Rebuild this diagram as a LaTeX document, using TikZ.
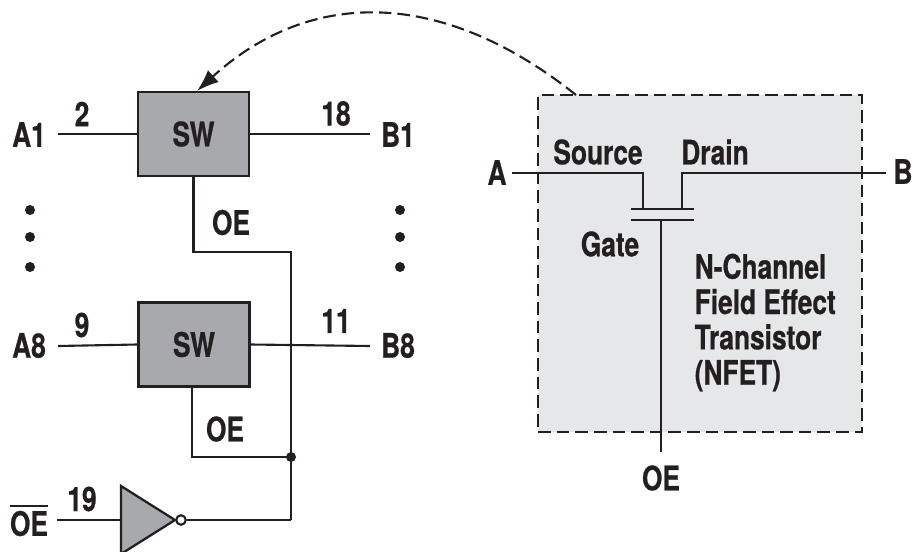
\documentclass[tikz,border=0pt]{standalone}
\usepackage{fontspec}
\setmainfont{TeX Gyre Heros}[FakeStretch=0.78,BoldFont={* Bold},BoldFeatures={FakeBold=0.6}]
\usetikzlibrary{arrows.meta}
\definecolor{inkblack}{HTML}{231F20}
\definecolor{swgray}{HTML}{A7A9AC}
\definecolor{fetgray}{HTML}{E6E7E8}
\tikzset{
  wire/.style={inkblack,line width=0.6pt},
  dashwire/.style={dash pattern=on 3.6pt off 1.7pt},
  swbox/.style={draw=inkblack,fill=swgray,line width=0.75pt,inner sep=0pt,minimum width=1.11cm,minimum height=0.84cm,text=inkblack,font=\fontsize{9.6}{11}\selectfont\bfseries},
  lbl/.style={inkblack,inner sep=0pt,font=\fontsize{9.6}{11}\selectfont\bfseries},
  stopdot/.style={circle,fill=inkblack,inner sep=0pt,minimum size=0.1cm},
}
\begin{document}
\begin{tikzpicture}
\useasboundingbox (0,0) rectangle (9.13,5.51);
% NFET panel
\node[draw=inkblack,fill=fetgray,dashwire,line width=0.65pt,inner sep=0pt,minimum width=3.24cm,minimum height=3.37cm] (fet) at (7.00,2.875) {};
\coordinate (fetout) at (5.76,4.56);
% switches
\node[swbox] (sw1) at (1.935,4.17) {SW};
\node[swbox] (sw2) at (1.94,2.065) {SW};
\draw[wire,dashwire,-{Latex[length=0.22cm,width=0.16cm]}] (fetout) .. controls (4.42,5.63) and (3.10,5.63) .. (1.97,4.60);
% pins
\coordinate (a1) at (0.58,4.17);
\coordinate (b1) at (3.70,4.17);
\coordinate (a8) at (0.58,2.05);
\coordinate (b8) at (3.70,2.05);
\draw[wire] (a1)--(sw1.west);
\draw[wire] (sw1.east)--(b1);
\draw[wire] (a8)--(sw2.west);
\draw[wire] (sw2.east)--(b8);
\node[lbl] (la1) at (0.29,4.165) {A1};
\node[lbl] (lb1) at (3.98,4.165) {B1};
\node[lbl] (la8) at (0.29,2.055) {A8};
\node[lbl] (lb8) at (3.98,2.055) {B8};
\node[lbl] (n2) at (0.82,4.37) {2};
\node[lbl] (n18) at (3.36,4.375) {18};
\node[lbl] (n9) at (0.82,2.26) {9};
\node[lbl] (n11) at (3.36,2.30) {11};
% dots
\foreach \dotx/\dotname in {0.30/l,4.00/r}{
  \foreach \doty/\dotnum in {3.41/1,3.14/2,2.84/3}{
    \node[stopdot] (dot\dotname\dotnum) at (\dotx,\doty) {};
  }
}
% enable wiring
\coordinate (oe1a) at (1.935,2.99);
\coordinate (oe1b) at (2.91,2.99);
\coordinate (oe2a) at (1.92,0.94);
\node[stopdot] (joint) at (2.91,0.94) {};
\coordinate (invend) at (2.91,0.31);
\coordinate (invin) at (0.57,0.31);
\draw[wire] (sw1.south)--(oe1a)--(oe1b)--(joint.center)--(invend);
\draw[wire] (sw2.south -| oe2a)--(oe2a)--(joint.center);
\node[lbl] (loe1) at (2.31,3.285) {OE};
\node[lbl] (loe2) at (2.25,1.22) {OE};
% inverter
\draw[draw=inkblack,fill=swgray,line width=0.65pt] (1.21,0.65)--(1.75,0.31)--(1.21,-0.03)--cycle;
\node[circle,draw=inkblack,fill=white,line width=0.6pt,inner sep=0pt,minimum size=0.095cm] (bubble) at (1.81,0.31) {};
\coordinate (invleft) at (1.21,0.31);
\draw[wire] (invin)--(invleft);
\draw[wire] (bubble.east)--(invend);
\node[lbl] (loebar) at (0.29,0.31) {$\overline{\mbox{OE}}$};
\node[lbl] (n19) at (0.82,0.52) {19};
% transistor
\coordinate (fa) at (5.12,3.78);
\coordinate (fb) at (8.86,3.78);
\coordinate (fs) at (6.43,3.78);
\coordinate (fs2) at (6.43,3.42);
\coordinate (fd) at (6.82,3.78);
\coordinate (fd2) at (6.82,3.42);
\coordinate (pl) at (6.31,3.42);
\coordinate (pr) at (6.94,3.42);
\coordinate (gl) at (6.31,3.31);
\coordinate (gr) at (6.94,3.31);
\coordinate (gm) at (6.61,3.31);
\coordinate (ge) at (6.61,0.99);
\draw[wire] (fa)--(fs)--(fs2);
\draw[wire] (fb)--(fd)--(fd2);
\draw[wire] (pl)--(pr);
\draw[wire] (gl)--(gr);
\draw[wire] (gm)--(ge);
\node[lbl] (la) at (4.97,3.785) {A};
\node[lbl] (lb) at (9.03,3.795) {B};
\node[lbl] (lsource) at (5.98,3.99) {Source};
\node[lbl] (ldrain) at (7.15,3.99) {Drain};
\node[lbl] (lgate) at (6.10,3.07) {Gate};
\node[lbl,align=left,anchor=north west,font=\fontsize{9.6}{10.05}\selectfont\bfseries] (lnfet) at (6.94,2.98) {N-Channel\\Field Effect\\Transistor\\(NFET)};
\node[lbl] (loe3) at (6.61,0.73) {OE};
\end{tikzpicture}
\end{document}
